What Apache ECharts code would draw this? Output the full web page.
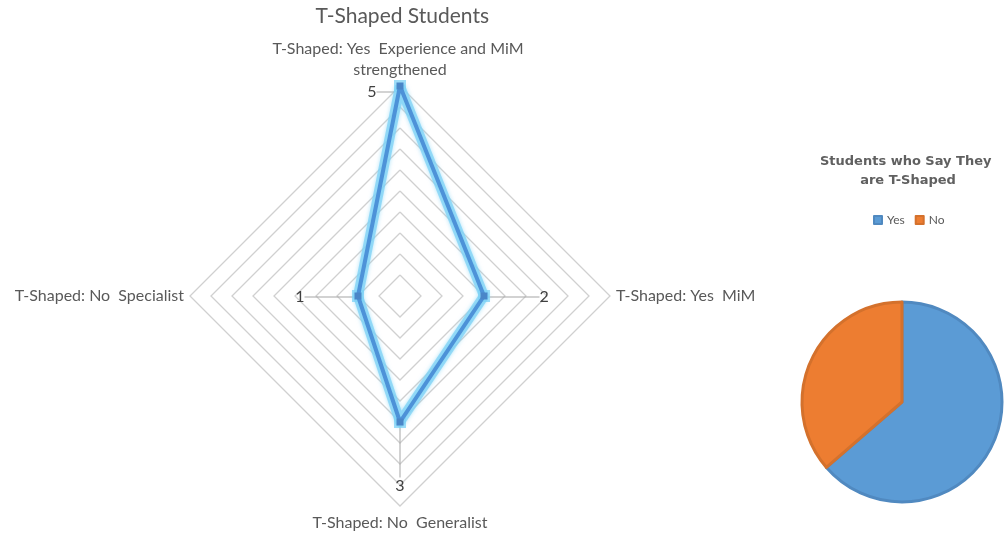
<!DOCTYPE html>
<html>
<head>
<meta charset="utf-8">
<script src="https://cdn.jsdelivr.net/npm/echarts@6/dist/echarts.min.js"></script>
<style>
  html, body { margin: 0; padding: 0; background: #fff; }
  #chart { width: 1007px; height: 535px; }
</style>
</head>
<body>
<div id="chart"></div>
<script>
// radar: indicators listed top, left, bottom, right (echarts goes counter-clockwise)
const radarNames = [
  'T-Shaped: Yes  Experience and MiM \nstrengthened',
  'T-Shaped: No  Specialist',
  'T-Shaped: No  Generalist',
  'T-Shaped: Yes  MiM'
]
const radarValues = [5, 1, 3, 2]
const radarMax = 5

// pie
const pieNames = ['Yes', 'No']
const pieValues = [7, 4]

const textColor = '#595959'
const font = 'Lato, "Open Sans", sans-serif'

const chart = echarts.init(document.getElementById('chart'), null, { renderer: 'canvas' })

// leader-line labels, one overlay series per axis
const leader = { backgroundColor: '#a6a6a6', height: 1 }
const num = { fontSize: 16, color: '#404040', fontFamily: font }
const labelDefs = [
  { pos: 'left', offset: [-2, 6], text: v => `{n|${v}}{h|}`, h: { ...leader, width: 18 } },
  { pos: 'left', offset: [0, 1], text: v => `{n|${v}}{h|}`, h: { ...leader, width: 50 } },
  { pos: 'bottom', offset: [0, 0], text: v => `{h|}\n{n|${v}}`, h: { backgroundColor: '#a6a6a6', width: 1, height: 52 } },
  { pos: 'right', offset: [0, 1], text: v => `{h|}{n|${v}}`, h: { ...leader, width: 52 } }
]

const labelSeries = labelDefs.map((d, i) => ({
  type: 'radar',
  silent: true,
  z: 1,
  symbol: 'circle',
  symbolSize: 1,
  itemStyle: { color: 'rgba(0,0,0,0)' },
  lineStyle: { opacity: 0 },
  label: {
    show: true,
    position: d.pos,
    distance: 3,
    offset: d.offset,
    color: '#404040',
    formatter: p => (p.value === radarValues[i] ? d.text(p.value) : ''),
    rich: { n: num, h: d.h }
  },
  data: [{ value: radarValues }]
}))

const option = {
  backgroundColor: '#fff',
  color: ['#5b9bd5', '#ed7d31'],
  textStyle: { fontFamily: font },
  title: [
    {
      text: 'T-Shaped Students ',
      left: 400,
      top: 1,
      textAlign: 'center',
      textStyle: { fontSize: 21, fontWeight: 'normal', color: textColor, fontFamily: font }
    },
    {
      text: 'Students who Say They \nare T-Shaped',
      left: 903,
      top: 147,
      textAlign: 'center',
      textStyle: {
        fontSize: 13,
        fontWeight: 'bold',
        color: '#606060',
        fontFamily: '"DejaVu Sans", sans-serif',
        lineHeight: 19
      }
    }
  ],
  legend: {
    data: pieNames,
    left: 868,
    top: 209,
    icon: 'rect',
    itemWidth: 8,
    itemHeight: 8,
    itemGap: 10,
    textStyle: { fontSize: 12, color: textColor, fontFamily: font }
  },
  radar: {
    center: [400, 296],
    radius: 210,
    startAngle: 90,
    shape: 'polygon',
    splitNumber: 10,
    nameGap: 6,
    indicator: radarNames.map(n => ({ name: n, max: radarMax, min: 0 })),
    axisName: { color: textColor, fontSize: 16, fontFamily: font, lineHeight: 21 },
    axisLine: { show: false },
    axisTick: { show: false },
    axisLabel: { show: false },
    splitArea: { show: false },
    splitLine: { lineStyle: { color: '#d0d0d0', width: 1.3 } }
  },
  series: [
    // glow under the main line
    {
      type: 'radar',
      silent: true,
      z: 2,
      symbol: 'rect',
      symbolSize: 12,
      itemStyle: { color: 'rgba(125,210,245,0.75)' },
      lineStyle: { color: 'rgba(125,210,245,0.75)', width: 10, shadowColor: 'rgba(125,210,245,0.8)', shadowBlur: 4 },
      data: [{ value: radarValues }]
    },
    {
      type: 'radar',
      z: 3,
      symbol: 'rect',
      symbolSize: 7,
      itemStyle: { color: '#4a86c8' },
      lineStyle: { color: '#4d92d8', width: 4 },
      data: [{ value: radarValues, name: 'T-Shaped Students' }]
    },
    ...labelSeries,
    {
      type: 'pie',
      center: [902, 402],
      radius: 100,
      startAngle: 90,
      clockwise: true,
      label: { show: false },
      labelLine: { show: false },
      emphasis: { disabled: true },
      data: pieNames.map((n, i) => ({
        name: n,
        value: pieValues[i],
        itemStyle: i === 0
          ? { color: '#5b9bd5', borderColor: '#5089c0', borderWidth: 3 }
          : { color: '#ed7d31', borderColor: '#d4712c', borderWidth: 3 }
      }))
    }
  ]
}

chart.setOption(option)
</script>
</body>
</html>
